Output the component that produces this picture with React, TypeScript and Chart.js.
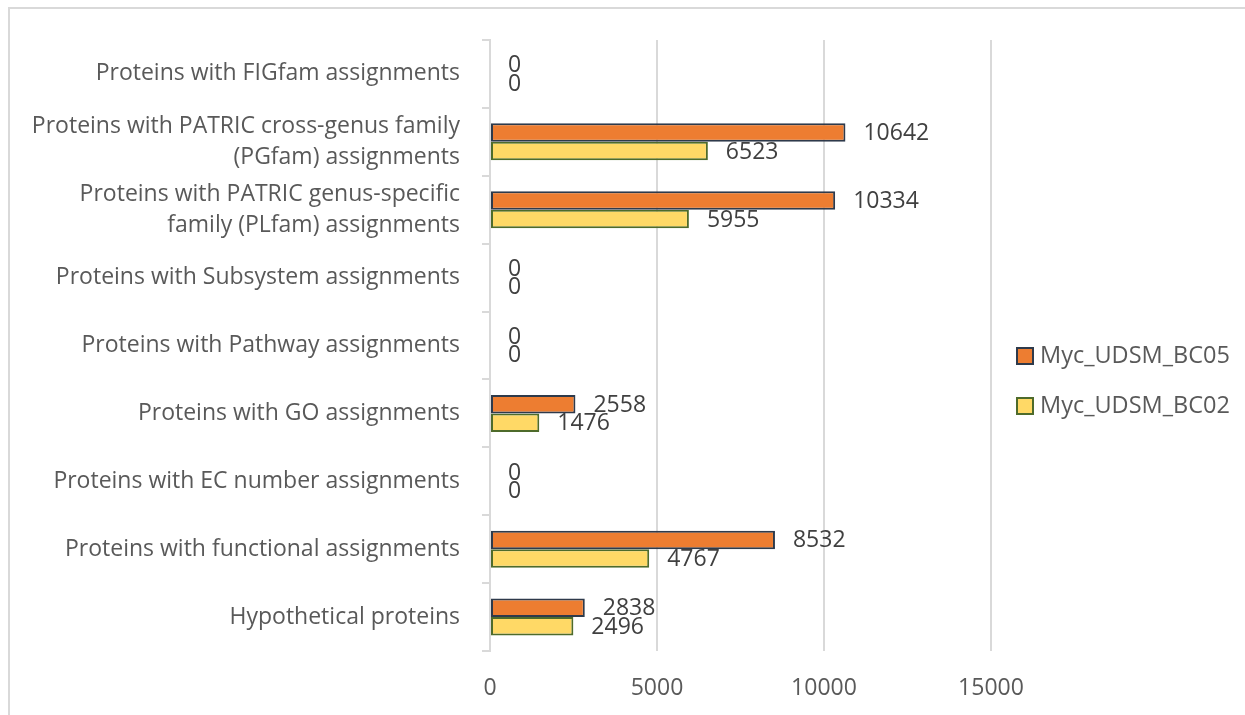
import React, { useEffect, useRef } from "react";
import { Chart, registerables } from "chart.js";

Chart.register(...registerables);

const categories: (string | string[])[] = [
  "Proteins with FIGfam assignments",
  ["Proteins with PATRIC cross-genus family", "(PGfam) assignments"],
  ["Proteins with PATRIC genus-specific", "family (PLfam) assignments"],
  "Proteins with Subsystem assignments",
  "Proteins with Pathway assignments",
  "Proteins with GO assignments",
  "Proteins with EC number assignments",
  "Proteins with functional assignments",
  "Hypothetical proteins",
];

const bc05Values = [0, 10642, 10334, 0, 0, 2558, 0, 8532, 2838];
const bc02Values = [0, 6523, 5955, 0, 0, 1476, 0, 4767, 2496];

const xTicks = [0, 5000, 10000, 15000];

const FONT = "'Open Sans', 'DejaVu Sans', sans-serif";

// Writes each bar's value just past its end
const valueLabels = {
  id: "valueLabels",
  afterDatasetsDraw(chart: Chart) {
    const ctx = chart.ctx;
    ctx.save();
    ctx.font = `23px ${FONT}`;
    ctx.fillStyle = "#404040";
    ctx.textAlign = "left";
    ctx.textBaseline = "middle";
    chart.data.datasets.forEach((ds, di) => {
      const meta = chart.getDatasetMeta(di);
      meta.data.forEach((el: any, i) => {
        const v = ds.data[i] as number;
        ctx.fillText(String(v), el.x + 18, el.y + 1);
      });
    });
    ctx.restore();
  },
};

// Series key to the right of the plot
const sideLegend = {
  id: "sideLegend",
  afterDraw(chart: Chart) {
    const ctx = chart.ctx;
    const left = chart.chartArea.right + 26;
    const midY = 381;
    const gap = 50;
    const n = chart.data.datasets.length;
    ctx.save();
    ctx.font = `23.5px ${FONT}`;
    ctx.textAlign = "left";
    ctx.textBaseline = "middle";
    chart.data.datasets.forEach((ds: any, i) => {
      const y = midY + (i - (n - 1) / 2) * gap;
      ctx.fillStyle = ds.backgroundColor;
      ctx.fillRect(left, y - 8, 16, 16);
      ctx.strokeStyle = ds.borderColor;
      ctx.lineWidth = 2;
      ctx.strokeRect(left, y - 8, 16, 16);
      ctx.fillStyle = "#595959";
      ctx.fillText(ds.label, left + 23, y);
    });
    ctx.restore();
  },
};

export default function App() {
  const canvasRef = useRef<HTMLCanvasElement>(null);

  useEffect(() => {
    if (!canvasRef.current) return;
    const chart = new Chart(canvasRef.current, {
      type: "bar",
      data: {
        labels: categories,
        datasets: [
          {
            label: "Myc_UDSM_BC05",
            data: bc05Values,
            backgroundColor: "#ED7D31",
            borderColor: "#2E3A4B",
            borderWidth: 2,
            borderSkipped: false,
          },
          {
            label: "Myc_UDSM_BC02",
            data: bc02Values,
            backgroundColor: "#FFD966",
            borderColor: "#4E6B2B",
            borderWidth: 2,
            borderSkipped: false,
          },
        ],
      },
      options: {
        indexAxis: "y",
        animation: false,
        responsive: true,
        maintainAspectRatio: false,
        datasets: {
          bar: {
            categoryPercentage: 0.545,
            barPercentage: 1,
          },
        },
        layout: { padding: { top: 40, left: 10, right: 254, bottom: 13 } },
        plugins: {
          legend: { display: false },
          tooltip: { enabled: false },
        },
        scales: {
          x: {
            min: 0,
            max: 15000,
            afterBuildTicks: (scale: any) => {
              scale.ticks = xTicks.map((v) => ({ value: v }));
            },
            afterFit: (scale: any) => {
              scale.height = 51;
            },
            grid: {
              color: "#D9D9D9",
              lineWidth: 2,
              drawTicks: false,
            },
            border: { display: false },
            ticks: {
              font: { family: FONT, size: 23 },
              color: "#595959",
              padding: 24,
              callback: (v: any) => String(v),
            },
          },
          y: {
            afterFit: (scale: any) => {
              scale.width = 480;
            },
            grid: {
              drawOnChartArea: false,
              drawTicks: true,
              tickLength: 8,
              tickColor: "#D9D9D9",
              lineWidth: 2,
            },
            border: { display: true, color: "#D9D9D9", width: 2 },
            ticks: {
              font: { family: FONT, size: 23, lineHeight: 1.35 },
              color: "#595959",
              padding: 22,
              autoSkip: false,
            },
          },
        },
      },
      plugins: [valueLabels, sideLegend],
    });
    return () => chart.destroy();
  }, []);

  return (
    <div
      style={{
        position: "fixed",
        left: 0,
        top: 0,
        width: 1245,
        height: 715,
        overflow: "hidden",
        background: "#fff",
      }}
    >
      <div
        style={{
          position: "absolute",
          left: 8,
          top: 7,
          width: 1260,
          height: 730,
          border: "2px solid #D9D9D9",
          boxSizing: "border-box",
        }}
      />
      <canvas ref={canvasRef} style={{ position: "absolute", left: 0, top: 0 }} />
    </div>
  );
}
